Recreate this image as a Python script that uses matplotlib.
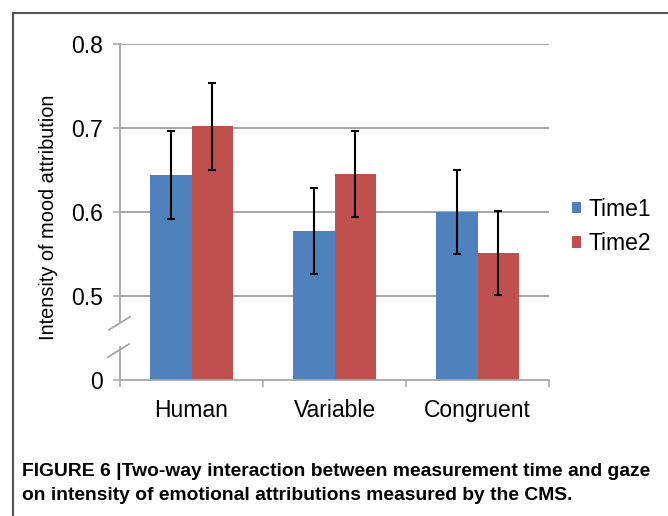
import matplotlib
matplotlib.use('Agg')
import matplotlib.pyplot as plt
from matplotlib.lines import Line2D
import numpy as np

plt.rcParams['font.family'] = ['Liberation Sans', 'DejaVu Sans']

categories = ['Human', 'Variable', 'Congruent']
series = ['Time1', 'Time2']
time1 = [0.644, 0.577, 0.600]
time2 = [0.702, 0.645, 0.551]
err1 = [0.052, 0.051, 0.050]
err2 = [0.052, 0.051, 0.050]
ytick_vals = [0.5, 0.6, 0.7, 0.8]
ytick_labels = ['0', '0.5', '0.6', '0.7', '0.8']
caption1 = 'FIGURE 6 |Two-way interaction between measurement time and gaze'
caption2 = 'on intensity of emotional attributions measured by the CMS.'

# broken axis: the value 0 is drawn one step below 0.5
base = 0.4

fig = plt.figure(figsize=(6.68, 5.16), dpi=100)
ax = fig.add_axes([120/668, 1-380/516, 429/668, 336/516])

x = np.arange(len(categories))
w = 0.287
c1 = '#4F81BD'
c2 = '#C0504D'
ax.bar(x - w/2, np.array(time1) - base, w, bottom=base, color=c1, label=series[0], zorder=2)
ax.bar(x + w/2, np.array(time2) - base, w, bottom=base, color=c2, label=series[1], zorder=2)
ax.errorbar(x - w/2, time1, yerr=err1, fmt='none', ecolor='black', elinewidth=1.5,
            capsize=3, capthick=1.5, zorder=3)
ax.errorbar(x + w/2, time2, yerr=err2, fmt='none', ecolor='black', elinewidth=1.5,
            capsize=3, capthick=1.5, zorder=3)

ax.set_xlim(-0.5, len(categories) - 0.5)
ax.set_ylim(base, 0.8)

for v in ytick_vals:
    ax.axhline(v, color='#A6A6A6', lw=1.4, zorder=1)

ax.set_yticks([base] + ytick_vals)
ax.set_yticklabels(ytick_labels, fontsize=16.5)
ax.tick_params(axis='y', length=5, width=1.1, color='#A6A6A6', pad=7)

ax.set_xticks(x)
ax.set_xticklabels(categories, fontsize=16.5)
ax.set_xticks(np.arange(len(categories) + 1) - 0.5, minor=True)
ax.tick_params(axis='x', which='major', length=0, pad=14)
ax.tick_params(axis='x', which='minor', length=5, width=1.1, color='#A6A6A6')

for s in ['top', 'right', 'left']:
    ax.spines[s].set_visible(False)
ax.spines['bottom'].set_color('#A6A6A6')
ax.spines['bottom'].set_linewidth(1.3)

# left spine with break marks
sc = '#A6A6A6'
ax.plot([0, 0], [1, 0.176], transform=ax.transAxes, color=sc, lw=1.3, clip_on=False)
ax.plot([0, 0], [0.098, 0], transform=ax.transAxes, color=sc, lw=1.3, clip_on=False)
ax.plot([-0.026, 0.023], [0.149, 0.188], transform=ax.transAxes, color=sc, lw=1.3, clip_on=False)
ax.plot([-0.028, 0.021], [0.068, 0.107], transform=ax.transAxes, color=sc, lw=1.3, clip_on=False)

ax.set_ylabel('Intensity of mood attribution', fontsize=14.4, labelpad=10)
ax.yaxis.label.set_y(0.484)

fig.legend(loc='center left', bbox_to_anchor=(572/668, 1-226.5/516), frameon=False,
           fontsize=16.5, handlelength=0.4, handleheight=0.4, handletextpad=0.3,
           labelspacing=0.5, borderpad=0, borderaxespad=0)

# frame around the figure panel
fig.add_artist(Line2D([13/668, 1], [1-13/516, 1-13/516], color='#555555', lw=1.5))
fig.add_artist(Line2D([13/668, 13/668], [1-13/516, 0], color='#555555', lw=1.5))

fig.text(22/668, 1-472/516, caption1, fontsize=13.9, fontweight='bold', va='center')
fig.text(22/668, 1-495/516, caption2, fontsize=13.9, fontweight='bold', va='center')

fig.savefig('out.png', dpi=100)
